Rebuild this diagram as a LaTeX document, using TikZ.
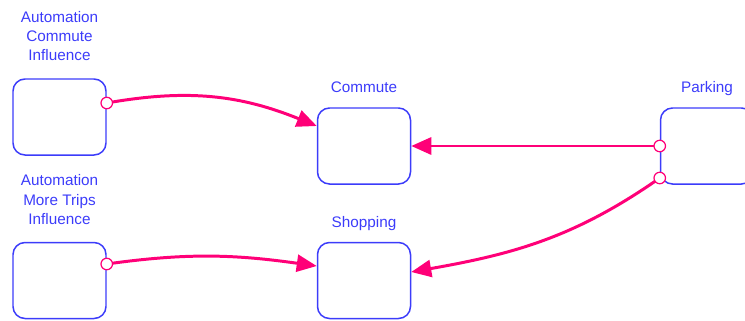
\documentclass[tikz,border=0pt]{standalone}
\usepackage{fontspec}
\setmainfont{Liberation Sans}
\usetikzlibrary{positioning, arrows.meta}

\definecolor{boxblue}{RGB}{60,60,250}
\definecolor{linkpink}{RGB}{255,0,120}

\begin{document}
\begin{tikzpicture}[main/.style = {draw=boxblue, line width=0.85pt, rounded corners=0.24cm, minimum width=1.86cm, minimum height=1.52cm},
        varlabel/.style = {text=boxblue, font=\fontsize{8.7}{11}\selectfont, align=center, inner sep=1pt},
        dot/.style = {draw=linkpink, fill=white, circle, line width=0.7pt, inner sep=0pt, minimum size=0.23cm},
        link/.style = {draw=linkpink, line width=1.7pt, -{Triangle[length=0.4cm, width=0.34cm]}}]
        \useasboundingbox (0,0) rectangle (14.9,6.4);
        \node[main] (aci) at (1.19,4.06){};
        \node[main] (commute) at (7.28,3.48){};
        \node[main] (parking) at (14.14,3.48){};
        \node[main] (amti) at (1.19,0.79){};
        \node[main] (shopping) at (7.28,0.79){};
        \node[varlabel, above=0.3cm of aci] (aci label) {Automation\\Commute\\Influence};
        \node[varlabel, text depth=0pt, above=0.25cm of commute] (commute label) {Commute};
        \node[varlabel, text depth=0pt, above=0.25cm of parking] (parking label) {Parking};
        \node[varlabel, above=0.3cm of amti] (amti label) {Automation\\More Trips\\Influence};
        \node[varlabel, text depth=0pt, above=0.24cm of shopping] (shopping label) {Shopping};
        \coordinate (c in) at ([yshift=0.4cm]commute.west);
        \coordinate (s in) at ([yshift=0.29cm]shopping.west);
        \coordinate (s in2) at ([yshift=0.17cm]shopping.east);
        \draw[link] ([yshift=0.28cm]aci.east) to[out=10, in=158] (c in);
        \draw[link] ([yshift=0.33cm]amti.east) to[out=8, in=172] (s in);
        \draw[link] (parking.west) -- (commute.east);
        \draw[link] ([yshift=-0.64cm]parking.west) to[out=215, in=10] (s in2);
        \node[dot] (d1) at ([yshift=0.28cm]aci.east){};
        \node[dot] (d2) at ([yshift=0.33cm]amti.east){};
        \node[dot] (d3) at (parking.west){};
        \node[dot] (d4) at ([yshift=-0.64cm]parking.west){};
    \end{tikzpicture}
\end{document}
